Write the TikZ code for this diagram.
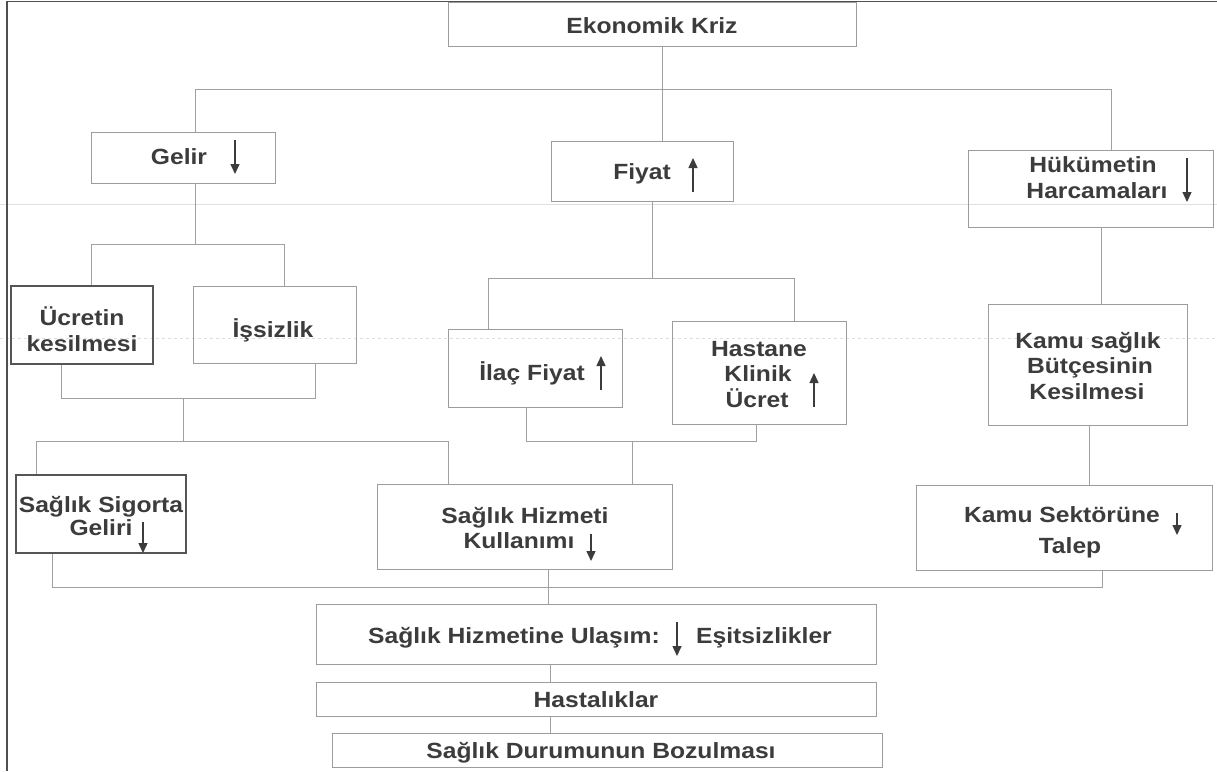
\documentclass[tikz,border=0pt]{standalone}
\usepackage{fontspec}
\setmainfont{Liberation Sans}[FakeStretch=1.12]
\usetikzlibrary{arrows.meta}
\definecolor{txt}{HTML}{3C3C3C}
\definecolor{boxc}{HTML}{9C9C9C}
\definecolor{boxd}{HTML}{555555}
\definecolor{conc}{HTML}{A0A0A0}
\definecolor{framec}{HTML}{505050}
\tikzset{
  box/.style={draw=boxc, line width=0.8pt, inner sep=0pt},
  boxdark/.style={draw=boxd, line width=1.1pt, inner sep=0pt},
  lbl/.style={inner sep=0pt, anchor=base, text=txt, font=\fontsize{22}{26}\selectfont\bfseries},
  conn/.style={draw=conc, line width=0.8pt},
  arr/.style={draw=txt, line width=1.4pt, -{Triangle[length=10pt,width=9pt]}},
  artifact/.style={draw=gray!25, line width=0.7pt},
}
\begin{document}
\begin{tikzpicture}[x=1pt,y=-1pt]
\useasboundingbox (0,0) rectangle (1217,771);
\fill[white] (0,0) rectangle (1217,771);
% scan artefact lines
\draw[artifact] (0,204) -- (1217,204);
\draw[artifact, dashed] (0,338) -- (1217,338);
% frame
\draw[draw=framec, line width=1.8pt] (7,771) -- (7,1.5) -- (1217,1.5);

% boxes
\node[box, minimum width=408pt, minimum height=44pt] (kriz) at (652,24) {};
\node[box, minimum width=184pt, minimum height=51pt] (gelir) at (183,157.5) {};
\node[box, minimum width=182pt, minimum height=60pt] (fiyat) at (642,171) {};
\node[box, minimum width=245pt, minimum height=77pt] (hukumet) at (1090.5,188.5) {};
\node[boxdark, minimum width=142pt, minimum height=78pt] (ucret) at (82,325) {};
\node[box, minimum width=163pt, minimum height=77pt] (issiz) at (274.5,324.5) {};
\node[box, minimum width=174pt, minimum height=78pt] (ilac) at (535,368) {};
\node[box, minimum width=174pt, minimum height=103pt] (hastane) at (759,372.5) {};
\node[box, minimum width=199pt, minimum height=121pt] (kamusag) at (1087.5,364.5) {};
\node[boxdark, minimum width=170pt, minimum height=78pt] (sigorta) at (101,514) {};
\node[box, minimum width=295pt, minimum height=85pt] (hizmet) at (524.5,526.5) {};
\node[box, minimum width=296pt, minimum height=85pt] (talep) at (1064,527.5) {};
\node[box, minimum width=560pt, minimum height=60pt] (ulasim) at (596,634) {};
\node[box, minimum width=560pt, minimum height=34pt] (hasta) at (596,699) {};
\node[box, minimum width=550pt, minimum height=34pt] (bozul) at (607,750) {};

% texts
\node[lbl] (tkriz) at (652,33) {Ekonomik Kriz};
\node[lbl] (tgelir) at (179,164) {Gelir};
\node[lbl] (tfiyat) at (642,179) {Fiyat};
\node[lbl] (thuk1) at (1093,172) {Hükümetin};
\node[lbl] (thuk2) at (1097,198) {Harcamaları};
\node[lbl] (tucr1) at (82,325) {Ücretin};
\node[lbl] (tucr2) at (82,351) {kesilmesi};
\node[lbl] (tissiz) at (273,337) {İşsizlik};
\node[lbl] (tilac) at (532,380) {İlaç Fiyat};
\node[lbl] (thas1) at (759,356) {Hastane};
\node[lbl] (thas2) at (758,381) {Klinik};
\node[lbl] (thas3) at (757,407) {Ücret};
\node[lbl] (tkam1) at (1088,348) {Kamu sağlık};
\node[lbl] (tkam2) at (1090,373) {Bütçesinin};
\node[lbl] (tkam3) at (1087,399) {Kesilmesi};
\node[lbl] (tsig1) at (101,512) {Sağlık Sigorta};
\node[lbl] (tsig2) at (101,535) {Geliri};
\node[lbl] (thiz1) at (525,523) {Sağlık Hizmeti};
\node[lbl] (thiz2) at (519,548) {Kullanımı};
\node[lbl] (ttal1) at (1062,522) {Kamu Sektörüne};
\node[lbl] (ttal2) at (1070,553) {Talep};
\node[lbl] (tula1) at (514,643) {Sağlık Hizmetine Ulaşım:};
\node[lbl, anchor=base west] (tula2) at (696,643) {Eşitsizlikler};
\node[lbl] (thasta) at (596,707) {Hastalıklar};
\node[lbl] (tboz) at (601,758) {Sağlık Durumunun Bozulması};

% trend arrows
\draw[arr] (235,140) -- (235,174);
\draw[arr] (693,192) -- (693,158);
\draw[arr] (1187,158) -- (1187,202);
\draw[arr] (601,390) -- (601,356);
\draw[arr] (814,407) -- (814,373);
\draw[arr] (143,522) -- (143,553);
\draw[arr] (591,534) -- (591,561);
\draw[arr] (1177,513) -- (1177,535);
\draw[arr] (677,622) -- (677,656);

% junction coordinates
\coordinate (t1) at (662,89);
\coordinate (b1l) at (195,89);
\coordinate (b1r) at (1111,89);
\coordinate (b2m) at (195,244);
\coordinate (b2l) at (91,244);
\coordinate (b2r) at (284,244);
\coordinate (b3l) at (61,398);
\coordinate (b3r) at (315,398);
\coordinate (b3m) at (183,398);
\coordinate (b4m) at (183,441);
\coordinate (b4l) at (36,441);
\coordinate (b4r) at (448,441);
\coordinate (c1m) at (652,278);
\coordinate (c1l) at (488,278);
\coordinate (c1r) at (794,278);
\coordinate (c2l) at (526,441);
\coordinate (c2r) at (756,441);
\coordinate (c2m) at (632,441);
\coordinate (d1) at (1101,260);
\coordinate (d2) at (1089,455);
\coordinate (e1l) at (52,587);
\coordinate (e1r) at (1102,587);
\coordinate (e1m) at (548,587);
\coordinate (f1) at (550,700);

% connectors
\draw[conn] (kriz.south -| t1) -- (fiyat.north -| t1);
\draw[conn] (gelir.north -| b1l) -- (b1l) -- (b1r) -- (hukumet.north -| b1r);
\draw[conn] (gelir.south -| b2m) -- (b2m);
\draw[conn] (ucret.north -| b2l) -- (b2l) -- (b2r) -- (issiz.north -| b2r);
\draw[conn] (ucret.south -| b3l) -- (b3l) -- (b3r) -- (issiz.south -| b3r);
\draw[conn] (b3m) -- (b4m);
\draw[conn] (sigorta.north -| b4l) -- (b4l) -- (b4r) -- (hizmet.north -| b4r);
\draw[conn] (fiyat.south -| c1m) -- (c1m);
\draw[conn] (ilac.north -| c1l) -- (c1l) -- (c1r) -- (hastane.north -| c1r);
\draw[conn] (ilac.south -| c2l) -- (c2l) -- (c2r) -- (hastane.south -| c2r);
\draw[conn] (c2m) -- (hizmet.north -| c2m);
\draw[conn] (hukumet.south -| d1) -- (kamusag.north -| d1);
\draw[conn] (kamusag.south -| d2) -- (talep.north -| d2);
\draw[conn] (sigorta.south -| e1l) -- (e1l) -- (e1r) -- (talep.south -| e1r);
\draw[conn] (hizmet.south -| e1m) -- (ulasim.north -| e1m);
\draw[conn] (ulasim.south -| f1) -- (hasta.north -| f1);
\draw[conn] (hasta.south -| f1) -- (bozul.north -| f1);
\end{tikzpicture}
\end{document}
